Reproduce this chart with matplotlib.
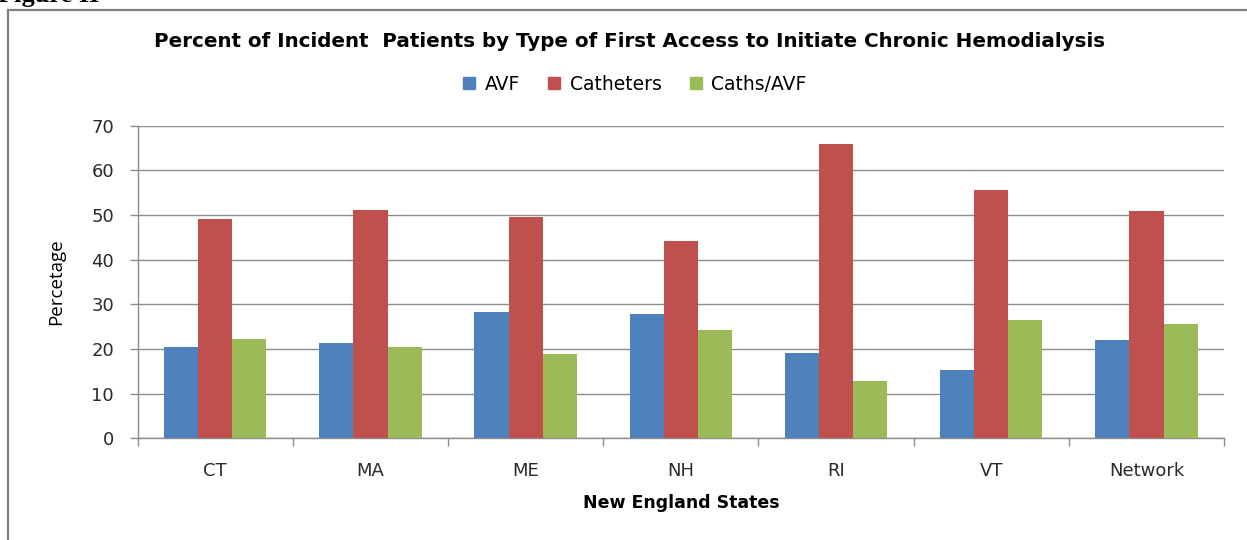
import matplotlib
matplotlib.use("Agg")
import matplotlib.pyplot as plt
from matplotlib.patches import Patch
from matplotlib.lines import Line2D
import numpy as np

states = ["CT", "MA", "ME", "NH", "RI", "VT", "Network"]
avf = [20.5, 21.4, 28.3, 27.9, 19.0, 15.4, 22.0]
catheters = [49.0, 51.1, 49.6, 44.2, 65.8, 55.7, 51.0]
caths_avf = [22.2, 20.5, 18.8, 24.2, 12.8, 26.6, 25.5]
series_names = ["AVF", "Catheters", "Caths/AVF"]
colors = ["#4F81BD", "#C0504D", "#9BBB59"]
y_ticks = [0, 10, 20, 30, 40, 50, 60, 70]

grid_col = "#8C8C8C"


def main():
    plt.rcParams["font.family"] = ["DejaVu Sans"]
    fig = plt.figure(figsize=(12.47, 5.40), dpi=100)
    ax = fig.add_axes([0.1104, 0.1883, 0.8712, 0.5789])

    x = np.arange(len(states))
    w = 0.22
    for i, vals in enumerate([avf, catheters, caths_avf]):
        ax.bar(x + (i - 1) * w, vals, w, color=colors[i], zorder=3,
               label=series_names[i])

    ax.set_xlim(-0.5, len(states) - 0.5)
    ax.set_ylim(0, 70)
    ax.set_yticks(y_ticks)
    ax.yaxis.grid(True, color=grid_col, linewidth=1.0, zorder=0)
    ax.set_axisbelow(True)

    ax.set_xticks(x)
    ax.set_xticklabels(states, fontsize=13, color="#2a2a2a")
    ax.set_xticks(np.arange(-0.5, len(states)), minor=True)
    ax.tick_params(axis="x", which="major", length=0, pad=17)
    ax.tick_params(axis="x", which="minor", length=6, color=grid_col, width=1, direction="out")
    ax.tick_params(axis="y", length=6, color=grid_col, width=1, pad=11,
                   labelsize=13, labelcolor="#2a2a2a")

    for s in ["top", "right"]:
        ax.spines[s].set_visible(False)
    for s in ["left", "bottom"]:
        ax.spines[s].set_color(grid_col)
        ax.spines[s].set_linewidth(1.0)

    ax.set_ylabel("Percetage", family="Open Sans", fontsize=13.5, labelpad=19)
    ax.set_xlabel("New England States", fontweight="bold", fontsize=12.5, labelpad=10)

    fig.text(0.505, 0.924, "Percent of Incident  Patients by Type of First Access to Initiate Chronic Hemodialysis",
             fontweight="bold", fontsize=14.3, ha="center", va="center")

    handles = [Patch(facecolor=c, edgecolor=c) for c in colors]
    fig.legend(handles, series_names, loc="center", bbox_to_anchor=(0.509, 0.844),
               ncol=3, frameon=False, fontsize=13.5, handlelength=0.65, handleheight=0.65,
               handletextpad=0.5, columnspacing=1.5)

    # outer frame of the pasted chart
    fig.add_artist(Line2D([8 / 1247, 1.0], [1 - 10 / 540, 1 - 10 / 540],
                          color="#808080", linewidth=1.6, transform=fig.transFigure))
    fig.add_artist(Line2D([8 / 1247, 8 / 1247], [0, 1 - 10 / 540],
                          color="#808080", linewidth=1.6, transform=fig.transFigure))

    # caption cut off at the top, as in the source page
    fig.text(-0.002, 1 - 2 / 540, "Figure II", family="Liberation Serif", fontweight="bold",
             fontsize=19, ha="left", va="baseline")

    fig.savefig("out.png", dpi=100)


if __name__ == "__main__":
    main()
